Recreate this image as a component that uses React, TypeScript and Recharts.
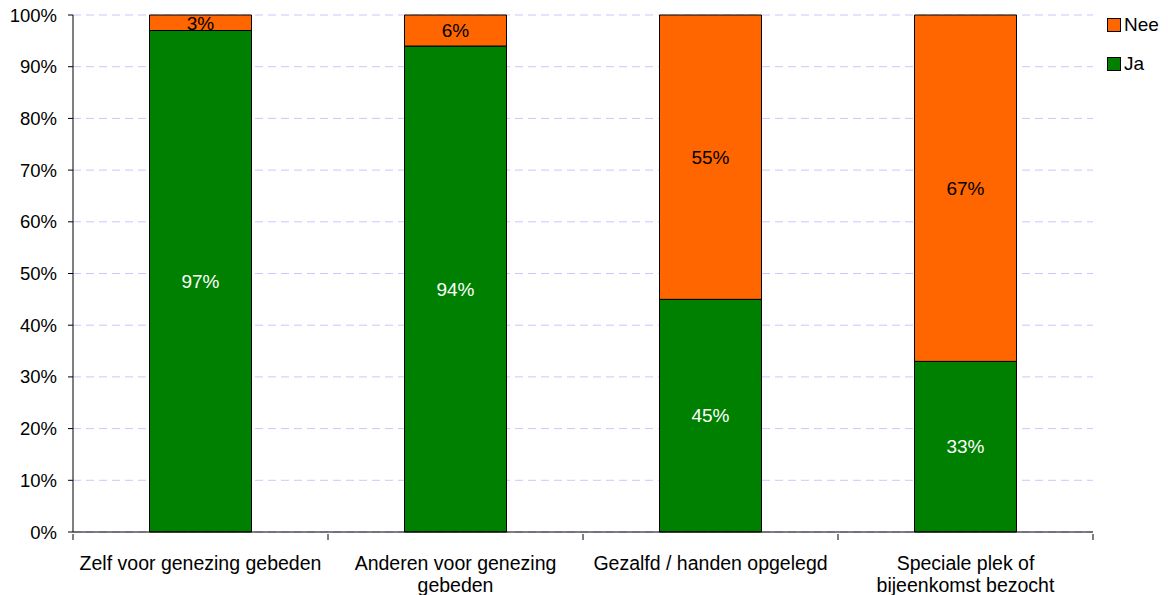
import { BarChart, Bar, XAxis, YAxis, CartesianGrid, LabelList } from 'recharts'

const categories = [
  'Zelf voor genezing gebeden',
  'Anderen voor genezing\ngebeden',
  'Gezalfd / handen opgelegd',
  'Speciale plek of\nbijeenkomst bezocht',
]
const ja = [97, 94, 45, 33]
const nee = [3, 6, 55, 67]
const yTicks = [0, 10, 20, 30, 40, 50, 60, 70, 80, 90, 100]
const legendItems = [
  { label: 'Nee', color: '#FF6600' },
  { label: 'Ja', color: '#008000' },
]

const data = categories.map((c, i) => ({ name: c, ja: ja[i], nee: nee[i] }))

const W = 1168
const H = 595
const M = { top: 15, right: 75, bottom: 62, left: 0 }
const Y_W = 73
const band = (W - M.right - Y_W) / categories.length

const font = 'Liberation Sans, Arial, sans-serif'

function XTick({ x, y, payload, index }: any) {
  const lines = String(payload.value).split('\n')
  return (
    <g>
      <line x1={x - band / 2} x2={x - band / 2} y1={y} y2={y + 6} stroke="#000" />
      {index === categories.length - 1 && (
        <line x1={x + band / 2} x2={x + band / 2} y1={y} y2={y + 6} stroke="#000" />
      )}
      <text x={x} y={y + 36} textAnchor="middle" fontSize={19.5} fill="#000" fontFamily={font}>
        {lines.map((l, i) => (
          <tspan key={i} x={x} dy={i === 0 ? 0 : 22}>{l}</tspan>
        ))}
      </text>
    </g>
  )
}

export default function App() {
  return (
    <div style={{ position: 'absolute', left: 0, top: 0, width: W, height: H, background: '#fff' }}>
      <BarChart width={W} height={H} data={data} margin={M} barCategoryGap="30%">
        <CartesianGrid vertical={false} stroke="#c8c8ff" strokeDasharray="8 5" />
        <XAxis
          dataKey="name"
          height={1}
          tick={<XTick />}
          tickLine={false}
          tickSize={0}
          axisLine={{ stroke: '#000' }}
          interval={0}
        />
        <YAxis
          width={Y_W}
          domain={[0, 100]}
          ticks={yTicks}
          tickFormatter={(v) => `${v}%`}
          tick={{ fill: '#000', fontSize: 18.5, fontFamily: font }}
          tickLine={{ stroke: '#000' }}
          tickSize={5}
          tickMargin={11}
          axisLine={{ stroke: '#000' }}
          interval={0}
        />
        <Bar dataKey="ja" stackId="a" fill="#008000" stroke="#000" isAnimationActive={false}>
          <LabelList
            dataKey="ja"
            position="center"
            formatter={(v: any) => `${v}%`}
            fill="#fff"
            fontSize={19}
            fontFamily={font}
          />
        </Bar>
        <Bar dataKey="nee" stackId="a" fill="#FF6600" stroke="#000" isAnimationActive={false}>
          <LabelList
            dataKey="nee"
            position="center"
            formatter={(v: any) => `${v}%`}
            fill="#000"
            fontSize={19}
            fontFamily={font}
          />
        </Bar>
      </BarChart>
      <div style={{ position: 'absolute', left: 1107, top: 5, fontFamily: font, fontSize: 19 }}>
        {legendItems.map((it) => (
          <div key={it.label} style={{ display: 'flex', alignItems: 'center', height: 39 }}>
            <span style={{ width: 12, height: 12, background: it.color, border: '1px solid #000', marginRight: 3 }} />
            <span>{it.label}</span>
          </div>
        ))}
      </div>
    </div>
  )
}
